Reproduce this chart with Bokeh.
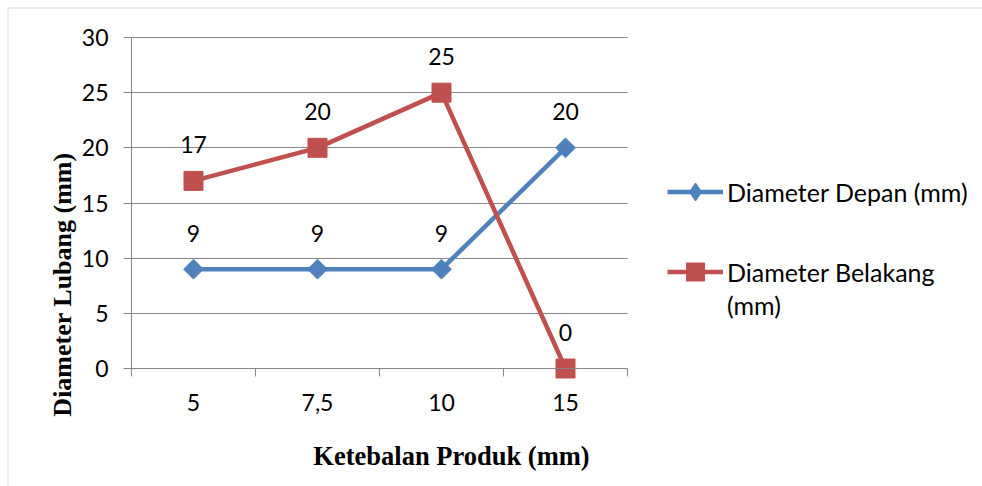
import numpy as np
from bokeh.plotting import figure
from bokeh.models import (Range1d, FixedTicker, Legend, LegendItem, Label,
                          LabelSet, ColumnDataSource, BoxAnnotation, LinearAxis, Grid)
from bokeh.core.properties import value
from bokeh.embed import file_html
from bokeh.resources import INLINE

# ---- data ----
categories = ["5", "7,5", "10", "15"]
depan = [9, 9, 9, 20]
belakang = [17, 20, 25, 0]
y_ticks = [0, 5, 10, 15, 20, 25, 30]
legend_depan = "Diameter Depan (mm)"
legend_belakang = ["Diameter Belakang", "(mm)"]
x_title = "Ketebalan Produk (mm)"
y_title = "Diameter Lubang (mm)"

# ---- style / layout ----
W, H = 982, 486
PX_L, PX_R, PX_T, PX_B = 131, 627, 37, 368   # plot area in canvas pixels
BLUE = "#4F81BD"
RED = "#C0504D"
GRAY = "#868686"
TICK_FONT = "Lato"
FS = "23px"
LEG_FS = "25px"

n = len(categories)
y_max = y_ticks[-1]
xpp = n / (PX_R - PX_L)          # data units per pixel (x)
ypp = y_max / (PX_B - PX_T)      # data units per pixel (y)
x_range = Range1d(-PX_L * xpp, (W - PX_L) * xpp)
y_range = Range1d(-(H - PX_B) * ypp, PX_B * ypp)

xs = list(np.arange(n) + 0.5)
bounds_x = list(range(n + 1))

p = figure(width=W, height=H, output_backend="svg", toolbar_location=None,
           x_range=x_range, y_range=y_range,
           x_axis_location=None, y_axis_location=None, min_border=0)
p.outline_line_color = None
for g in p.grid:
    g.visible = False

# y axis (fixed at x=0)
yax = LinearAxis(fixed_location=0, bounds=(0, y_max), ticker=FixedTicker(ticks=y_ticks))
yax.axis_line_color = GRAY
yax.major_tick_line_color = GRAY
yax.major_tick_out = 8
yax.major_tick_in = 0
yax.minor_tick_line_color = None
yax.major_label_text_font = TICK_FONT
yax.major_label_text_font_size = FS
yax.major_label_text_color = "black"
yax.major_label_standoff = 15
p.add_layout(yax, "left")

# x axis (fixed at y=0)
xax = LinearAxis(fixed_location=0, bounds=(0, n),
                 ticker=FixedTicker(ticks=xs, minor_ticks=bounds_x))
xax.major_label_overrides = {x: c for x, c in zip(xs, categories)}
xax.axis_line_color = GRAY
xax.major_tick_line_color = None
xax.minor_tick_line_color = GRAY
xax.minor_tick_out = 8
xax.minor_tick_in = 0
xax.major_label_text_font = TICK_FONT
xax.major_label_text_font_size = FS
xax.major_label_text_color = "black"
xax.major_label_standoff = 17
p.add_layout(xax, "below")

grid = Grid(dimension=1, ticker=FixedTicker(ticks=y_ticks), bounds=(0, y_max),
            cross_bounds=(0, n), grid_line_color=GRAY, grid_line_width=1)
p.add_layout(grid)

src = ColumnDataSource(dict(x=xs, depan=depan, belakang=belakang,
                            ld=[str(v) for v in depan], lb=[str(v) for v in belakang]))

l1 = p.line("x", "depan", source=src, line_color=BLUE, line_width=4.5)
m1 = p.scatter("x", "depan", source=src, marker="square", angle=np.pi / 4,
               size=14, fill_color=BLUE, line_color=BLUE)
l2 = p.line("x", "belakang", source=src, line_color=RED, line_width=4.5)
m2 = p.scatter("x", "belakang", source=src, marker="square", size=19,
               fill_color=RED, line_color=RED)
# legend-only glyphs (a single NaN point, never drawn in the plot area)
leg_diamond = p.scatter(x=[float("nan")], y=[float("nan")], marker="diamond",
                        fill_color=BLUE, line_color=BLUE)
dummy = p.scatter(x=[float("nan")], y=[float("nan")], fill_alpha=0, line_alpha=0)

for col, ycol in [("ld", "depan"), ("lb", "belakang")]:
    p.add_layout(LabelSet(x="x", y=ycol, text=col, source=src, y_offset=36,
                          text_align="center", text_baseline="middle",
                          text_font=value(TICK_FONT), text_font_size=FS,
                          text_color="black"))

leg1 = Legend(items=[LegendItem(label=legend_depan, renderers=[l1, leg_diamond])],
              location=(667, 272))
leg1.glyph_height = 45
leg2 = Legend(items=[LegendItem(label=legend_belakang[0], renderers=[l2, m2])],
              location=(667, 192))
leg2.glyph_height = 45
leg3 = Legend(items=[LegendItem(label=legend_belakang[1], renderers=[dummy])],
              location=(667, 166))
leg3.glyph_height = 20
for lg in (leg1, leg2, leg3):
    lg.glyph_width = 56
    lg.label_height = 26
    lg.label_standoff = 4
    lg.padding = 0
    lg.margin = 0
    lg.spacing = 0
    lg.border_line_color = None
    lg.background_fill_color = None
    lg.label_text_font = TICK_FONT
    lg.label_text_font_size = LEG_FS
    lg.label_text_color = "black"
    p.add_layout(lg)

p.add_layout(Label(x=(62 - PX_L) * xpp, y=(PX_B - 284) * ypp, text=y_title, angle=np.pi / 2,
                   text_align="center", text_baseline="middle",
                   text_font="Liberation Serif", text_font_style="bold",
                   text_font_size="26px", text_color="black"))
p.add_layout(Label(x=(451 - PX_L) * xpp, y=(PX_B - 455) * ypp, text=x_title,
                   text_align="center", text_baseline="middle",
                   text_font="Liberation Serif", text_font_style="bold",
                   text_font_size="26.5px", text_color="black"))

# outer chart border (left & top visible; right/bottom fall outside the picture)
p.add_layout(BoxAnnotation(left=7.5, right=W + 50, top=H - 7.5, bottom=-50,
                           left_units="screen", right_units="screen",
                           top_units="screen", bottom_units="screen",
                           fill_color=None, line_color=GRAY, line_width=1))

open("out.html", "w").write(file_html(p, INLINE))
